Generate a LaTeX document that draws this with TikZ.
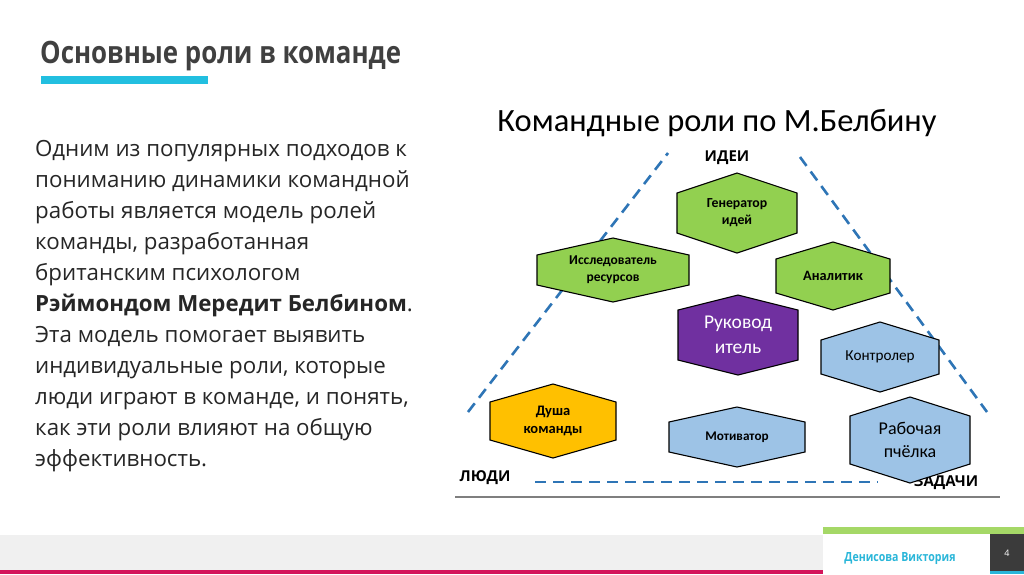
\documentclass[tikz,border=0pt]{standalone}
\usepackage{fontspec}
\setmainfont{Open Sans}
\newfontfamily\headfont[FakeStretch=0.84]{Open Sans}
\newfontfamily\calfont{Carlito}
\definecolor{headgray}{HTML}{404040}
\definecolor{bodygray}{HTML}{262626}
\definecolor{cyanbar}{HTML}{22BFE0}
\definecolor{hgreen}{HTML}{92D050}
\definecolor{hpurple}{HTML}{7030A0}
\definecolor{hblue}{HTML}{9DC3E6}
\definecolor{hyellow}{HTML}{FFC000}
\definecolor{dashblue}{HTML}{2E75B6}
\definecolor{footgray}{HTML}{F0F0F0}
\definecolor{crimson}{HTML}{D4145A}
\definecolor{greenbar}{HTML}{A5D867}
\definecolor{darkbox}{HTML}{3B3B3B}
\definecolor{footcyan}{HTML}{29B6D9}
\definecolor{linegray}{HTML}{7F7F7F}
\tikzset{
  hexline/.style={draw=black, line width=1.1pt},
  dashline/.style={draw=dashblue, line width=2.6pt, dash pattern=on 11pt off 7pt},
  bodyline/.style={anchor=base west, inner sep=0pt, text=bodygray, font=\fontsize{22.3}{26}\selectfont},
  labeltext/.style={inner sep=0pt, text=black, font=\bfseries\fontsize{15}{17}\selectfont},
}
\newcommand\hexnode[9]{%
  \filldraw[hexline, fill=#7] (#2-#4,#3-#6) -- (#2,#3-#5) -- (#2+#4,#3-#6) -- (#2+#4,#3+#6) -- (#2,#3+#5) -- (#2-#4,#3+#6) -- cycle;
  \node[font=#8, align=center, inner sep=0pt] (#1) at (#2,#3) {#9};}
\begin{document}
\begin{tikzpicture}[x=1pt,y=-1pt]
\useasboundingbox (0,0) rectangle (1024,574);
\fill[white] (0,0) rectangle (1024,574);
% heading
\node[anchor=base west, inner sep=0pt, text=headgray, font=\headfont\bfseries\fontsize{30.8}{36}\selectfont] (head) at (40,63) {Основные роли в команде};
\fill[cyanbar] (41,76) rectangle (208,84);
% body text
\node[bodyline] (l1) at (35,156) {Одним из популярных подходов к};
\node[bodyline] (l2) at (35,187) {пониманию динамики командной};
\node[bodyline] (l3) at (35,218) {работы является модель ролей};
\node[bodyline] (l4) at (35,249) {команды, разработанная};
\node[bodyline] (l5) at (35,280) {британским психологом};
\node[bodyline] (l6) at (35,311) {\bfseries Рэймондом Мередит Белбином\mdseries.};
\node[bodyline] (l7) at (35,342) {Эта модель помогает выявить};
\node[bodyline] (l8) at (35,373) {индивидуальные роли, которые};
\node[bodyline] (l9) at (35,404) {люди играют в команде, и понять,};
\node[bodyline] (l10) at (35,435) {как эти роли влияют на общую};
\node[bodyline] (l11) at (35,466) {эффективность.};
% diagram title
\node[anchor=base, inner sep=0pt, text=black, font=\calfont\fontsize{32.5}{38}\selectfont] (title) at (717,131) {Командные роли по М.Белбину};
% dashed triangle
\coordinate (tl) at (668,153);
\coordinate (bl) at (468,412);
\coordinate (tr) at (800,157);
\coordinate (br) at (987,412);
\coordinate (b1) at (535,482);
\coordinate (b2) at (878,482);
\draw[dashline] (bl) -- (tl);
\draw[dashline] (tr) -- (br);
\draw[dashline] (b1) -- (b2);
% labels
\node[labeltext] (ideas) at (727,158) {ИДЕИ};
\node[labeltext] (people) at (485,478) {ЛЮДИ};
\node[labeltext] (tasks) at (946,483) {ЗАДАЧИ};
% hexagons
\hexnode{gen}{737}{213}{60}{40}{20}{hgreen}{\calfont\bfseries\fontsize{13.8}{17}\selectfont}{Генератор\\идей}
\hexnode{res}{613}{270}{76}{32}{15}{hgreen}{\calfont\bfseries\fontsize{13.5}{17}\selectfont}{Исследователь\\ресурсов}
\hexnode{ana}{833}{276}{57}{34}{17}{hgreen}{\calfont\bfseries\fontsize{14.3}{17}\selectfont}{Аналитик}
\hexnode{ruk}{738}{335}{60}{40}{25}{hpurple}{\calfont\fontsize{19.5}{25}\selectfont\color{white}}{Руковод\\итель}
\hexnode{kon}{880}{357}{59}{35}{17}{hblue}{\calfont\fontsize{15.2}{17}\selectfont}{Контролер}
\hexnode{rab}{910}{440}{60}{43}{24}{hblue}{\calfont\fontsize{18}{23}\selectfont}{Рабочая\\пчёлка}
\hexnode{dus}{553}{421}{63}{37}{19}{hyellow}{\calfont\bfseries\fontsize{14.5}{18}\selectfont}{Душа\\команды}
\hexnode{mot}{737}{437}{68}{30}{15}{hblue}{\calfont\bfseries\fontsize{13.2}{15}\selectfont}{Мотиватор}
% base line
\coordinate (g1) at (455,497);
\coordinate (g2) at (1000,497);
\draw[draw=linegray, line width=1.5pt] (g1) -- (g2);
% footer
\fill[footgray] (0,535) rectangle (1024,571);
\fill[crimson] (0,570) rectangle (823,574);
\fill[white] (823,534) rectangle (990,571);
\fill[greenbar] (823,527) rectangle (1024,534);
\fill[darkbox] (990,534) rectangle (1024,574);
\fill[footcyan] (990,571) rectangle (1024,574);
\node[inner sep=0pt, text=footcyan, font=\headfont\bfseries\fontsize{12.6}{15}\selectfont] (author) at (900,559) {Денисова Виктория};
\node[inner sep=0pt, text=white, font=\fontsize{9}{11}\selectfont] (page) at (1007,553) {4};
\end{tikzpicture}
\end{document}
